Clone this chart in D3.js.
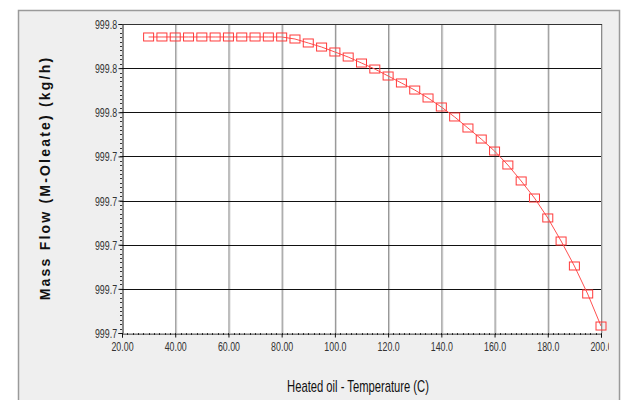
<!DOCTYPE html>
<html>
<head>
<meta charset="utf-8">
<script src="https://cdn.jsdelivr.net/npm/d3@7"></script>
<style>
body{margin:0;background:#fff;}
svg{display:block;}
</style>
</head>
<body>
<svg id="chart" width="621" height="400"></svg>
<script>
// temperatures (C)
var temps = [30,35,40,45,50,55,60,65,70,75,80,85,90,95,100,105,110,115,120,125,130,135,140,145,150,155,160,165,170,175,180,185,190,195,200];
// mass flow (kg/h)
var flows = [999.76053,999.76053,999.76053,999.76053,999.76053,999.76053,999.76053,999.76053,999.76053,999.76053,999.76053,
    999.76030,999.75985,999.75939,999.75883,999.75826,999.75758,999.75690,999.75611,999.75532,999.75452,999.75362,
    999.75260,999.75147,999.75022,999.74897,999.74761,999.74603,999.74422,999.74229,999.74003,999.73742,999.73459,
    999.73142,999.72779];
var xTicks = [20,40,60,80,100,120,140,160,180,200];
var yTicks = [999.762,999.757,999.752,999.747,999.742,999.737,999.732,999.727];

var svg = d3.select("#chart");
var L = 122, T = 24, R = 601, B = 333;

// panel
svg.append("rect").attr("x",18.5).attr("y",10.5).attr("width",601).attr("height",400)
    .attr("fill","#efefef").attr("stroke","#9a9a9a").attr("stroke-width",1.5);

var x = d3.scaleLinear().domain([20,200]).range([L,R]);
var y = d3.scaleLinear().domain([999.727,999.762]).range([B,T]);

svg.append("rect").attr("x",L).attr("y",T).attr("width",R-L).attr("height",B-T).attr("fill","#fff");

// vertical grid (gray with light shadow)
var vg = svg.append("g");
xTicks.slice(1).forEach(function(t){
    vg.append("line").attr("x1",x(t)+1.5).attr("x2",x(t)+1.5).attr("y1",T).attr("y2",B)
        .attr("stroke","#d4d4d4").attr("stroke-width",1);
    vg.append("line").attr("x1",x(t)+0.5).attr("x2",x(t)+0.5).attr("y1",T).attr("y2",B)
        .attr("stroke","#8c8c8c").attr("stroke-width",1);
});
// horizontal grid
svg.append("g").selectAll("line").data(yTicks.slice(0,-1)).enter().append("line")
    .attr("x1",L).attr("x2",R).attr("y1",function(d){return Math.round(y(d))+0.5;})
    .attr("y2",function(d){return Math.round(y(d))+0.5;})
    .attr("stroke","#111").attr("stroke-width",1);

// frame right
svg.append("line").attr("x1",R+1.5).attr("x2",R+1.5).attr("y1",T).attr("y2",B)
    .attr("stroke","#d0d0d0");

var tickFont = "'Liberation Sans',Arial,sans-serif";

// minor ticks
var minorY = d3.range(0,71).map(function(i){return 999.727+i*0.0005;});
svg.append("g").selectAll("line").data(minorY).enter().append("line")
    .attr("x1",L-2).attr("x2",L).attr("y1",function(d){return Math.round(y(d))+0.5;})
    .attr("y2",function(d){return Math.round(y(d))+0.5;})
    .attr("stroke","#333");
var minorX = d3.range(20,200.1,2);
svg.append("g").selectAll("line").data(minorX).enter().append("line")
    .attr("x1",function(d){return Math.round(x(d))+0.5;}).attr("x2",function(d){return Math.round(x(d))+0.5;})
    .attr("y1",B).attr("y2",B+2).attr("stroke","#333");

// axes
var yAxis = svg.append("g").attr("transform","translate("+(L+0.5)+",0)")
    .call(d3.axisLeft(y).tickValues(yTicks).tickSize(4).tickFormat(d3.format(".1f")));
var xAxis = svg.append("g").attr("transform","translate(0,"+(B+0.5)+")")
    .call(d3.axisBottom(x).tickValues(xTicks).tickSize(4).tickFormat(d3.format(".4r")));
[yAxis,xAxis].forEach(function(a){
    a.select(".domain").attr("stroke","#111");
    a.selectAll(".tick line").attr("stroke","#111");
    a.selectAll("text").attr("fill","#333").style("font-family",tickFont).style("font-size","13px")
        .attr("transform","scale(0.68,1)");
});
yAxis.selectAll("text").attr("x",-8).attr("dy","0.35em");
xAxis.selectAll("text").attr("y",8);

// clip at the panel edge
svg.append("clipPath").attr("id","panelClip").append("rect")
    .attr("x",0).attr("y",0).attr("width",609).attr("height",400);
xAxis.attr("clip-path","url(#panelClip)");

// top border
svg.append("line").attr("x1",L).attr("x2",R+1).attr("y1",T+0.5).attr("y2",T+0.5).attr("stroke","#333");

// series
var line = d3.line().x(function(d,i){return x(temps[i]);}).y(function(d){return y(d);});
svg.append("path").datum(flows).attr("d",line).attr("fill","none")
    .attr("stroke","#ff5050").attr("stroke-width",1);
svg.append("g").selectAll("rect").data(flows).enter().append("rect")
    .attr("x",function(d,i){return x(temps[i])-5;})
    .attr("y",function(d){return y(d)-4;})
    .attr("width",10).attr("height",8)
    .attr("fill","none").attr("stroke","#ff3a3a").attr("stroke-width",1);

// titles
svg.append("text").attr("transform","translate(358,392) scale(0.66,1)").attr("text-anchor","middle")
    .style("font-family",tickFont).style("font-size","17px").attr("fill","#111")
    .text("Heated oil - Temperature (C)");
svg.append("text").attr("transform","translate(50,178) rotate(-90)").attr("text-anchor","middle")
    .style("font-family","'Liberation Sans',Arial,sans-serif").style("font-size","14px")
    .style("font-weight","bold").style("letter-spacing","2.2px").attr("fill","#111")
    .text("Mass Flow (M-Oleate) (kg/h)");
</script>
</body>
</html>
